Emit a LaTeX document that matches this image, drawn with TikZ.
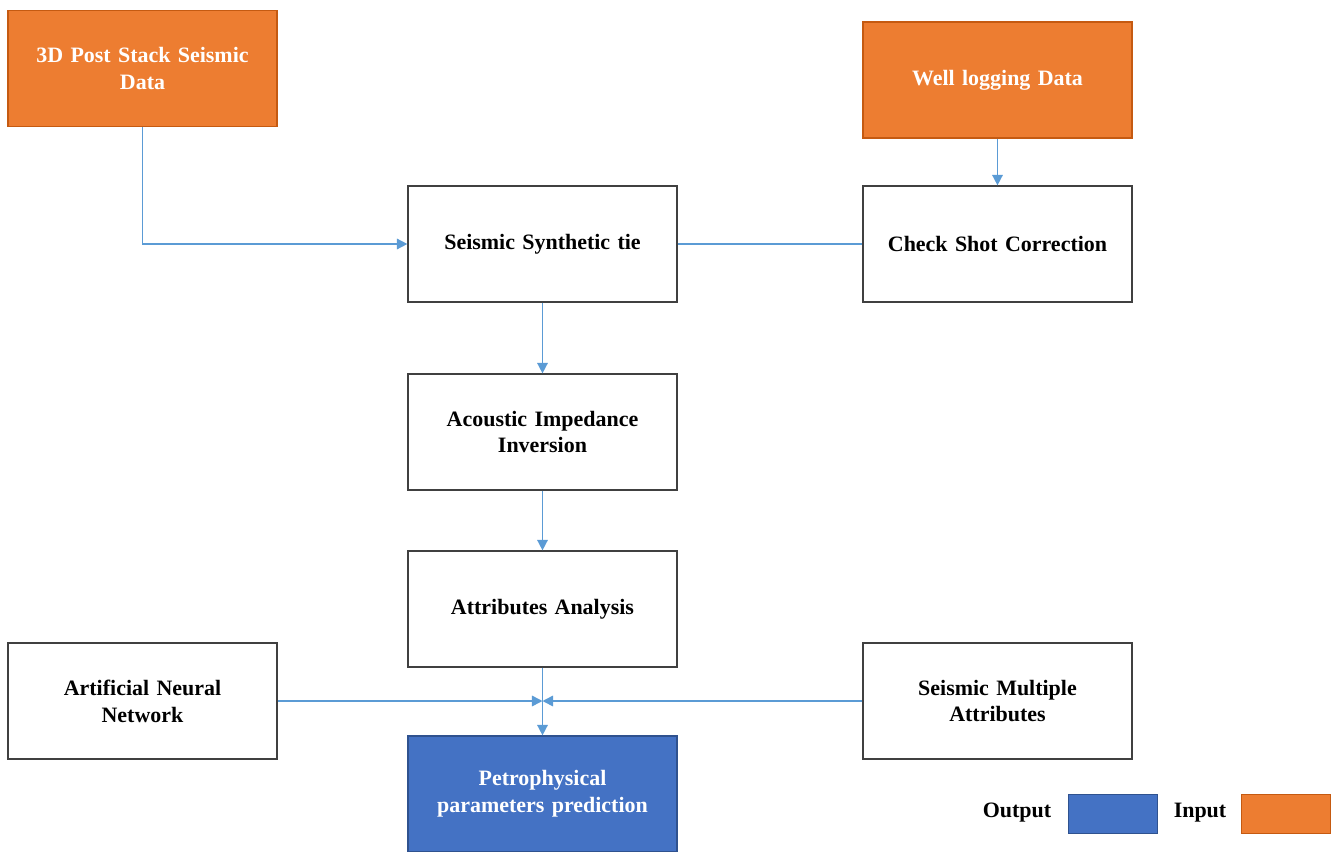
\documentclass[tikz,border=0pt]{standalone}
\usepackage{fontspec}
\setmainfont{Liberation Serif}
\usetikzlibrary{arrows.meta}

\definecolor{inorange}{HTML}{ED7D31}
\definecolor{inedge}{HTML}{C55A11}
\definecolor{outblue}{HTML}{4472C4}
\definecolor{outedge}{HTML}{2F528F}
\definecolor{flowblue}{HTML}{5B9BD5}

\tikzset{
  stage/.style={draw=black!75, line width=0.7pt, minimum width=5.38cm, minimum height=2.32cm,
    align=center, font=\bfseries\fontsize{12.5}{15.3}\selectfont, text width=5.1cm},
  inputbox/.style={stage, fill=inorange, draw=inedge, text=white},
  outputbox/.style={stage, fill=outblue, draw=outedge, text=white},
  flow/.style={flowblue, line width=0.9pt, -{Triangle[length=6pt,width=6pt]}},
  link/.style={flowblue, line width=0.9pt},
  keytext/.style={font=\bfseries\fontsize{12.5}{15}\selectfont},
}

\begin{document}
\begin{tikzpicture}[x=0.02cm, y=-0.02cm]
\useasboundingbox (0,0) rectangle (1333,852);

% ===== input boxes =====
\node[inputbox] (seis) at (142.5,68.5) {3D Post Stack Seismic\\Data};
\node[inputbox] (well) at (997.5,80) {Well logging Data};

% ===== process boxes =====
\node[stage] (tie)   at (542.5,244) {Seismic Synthetic tie};
\node[stage] (check) at (997.5,244) {Check Shot Correction};
\node[stage] (ai)    at (542.5,432) {Acoustic Impedance\\Inversion};
\node[stage] (attr)  at (542.5,609) {Attributes Analysis};
\node[stage] (ann)   at (142.5,701) {Artificial Neural\\Network};
\node[stage] (multi) at (997.5,701) {Seismic Multiple\\Attributes};

% ===== output box =====
\node[outputbox] (petro) at (542.5,794) {Petrophysical\\parameters prediction};

% ===== connectors =====
\coordinate (meet) at (542.5,701);
\draw[flow] (seis.south) |- (tie.west);
\draw[link] (tie.east) -- (check.west);
\draw[flow] (well.south) -- (check.north);
\draw[flow] (tie.south) -- (ai.north);
\draw[flow] (ai.south) -- (attr.north);
\draw[flow] (attr.south) -- (petro.north);
\draw[flow] (ann.east) -- (meet);
\draw[flow] (multi.west) -- (meet);

% ===== legend =====
\node[keytext] (outtxt) at (1017,813) {Output};
\node[draw=outedge, fill=outblue, minimum width=1.78cm, minimum height=0.78cm, line width=0.4pt] (outkey) at (1112.5,813.5) {};
\node[keytext] (intxt) at (1200,813) {Input};
\node[draw=inedge, fill=inorange, minimum width=1.78cm, minimum height=0.78cm, line width=0.4pt] (inkey) at (1285.5,813.5) {};

\end{tikzpicture}
\end{document}
